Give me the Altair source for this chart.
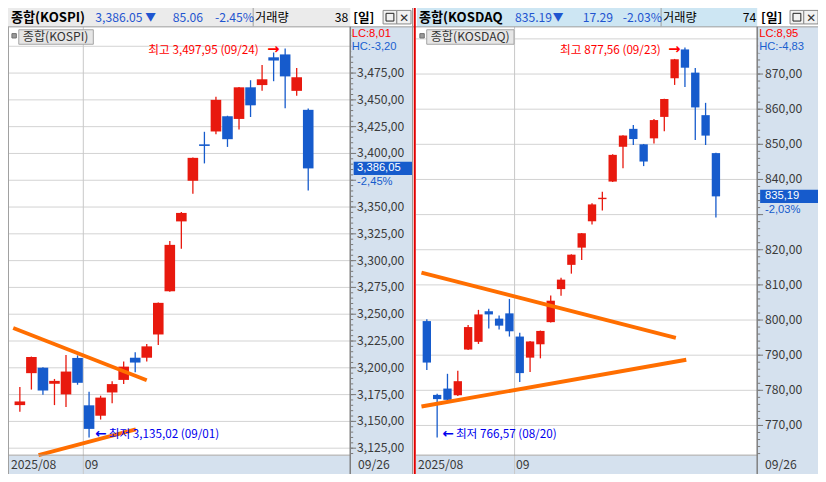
import altair as alt
import pandas as pd

# ---------------- canvas ----------------
W, H = 810, 466
SX, SY = W / 826.0, H / 482.0
FS = (SX + SY) / 2.0


def px(v):
    return v * SX


def py(v):
    return v * SY


FONT = "Noto Sans CJK KR"
NUM_FONT = "Liberation Sans"
ARROW_FONT = "DejaVu Sans"
UP = "#e8190e"
DOWN = "#165bcc"
ORANGE = "#ff6e00"
GRID = "#d3d3d3"
STRIP = "#d5e1ee"
AXIS_TXT = "#3a3a3a"
ANNO_RED = "#ff0000"
ANNO_BLUE = "#0000ee"
HDR_BLUE = "#1f55d0"

# ---------------- data: KOSPI ----------------
kospi_dates = ["08/22", "08/25", "08/26", "08/27", "08/28", "08/29",
               "09/01", "09/02", "09/03", "09/04", "09/05",
               "09/08", "09/09", "09/10", "09/11", "09/12",
               "09/15", "09/16", "09/17", "09/18", "09/19",
               "09/22", "09/23", "09/24", "09/25", "09/26"]
kospi_open = [3165.2, 3195.0, 3200.1, 3185.1, 3175.2, 3209.2,
              3165.0, 3155.3, 3177.0, 3188.7, 3209.4,
              3209.4, 3231.1, 3271.4, 3336.6, 3374.5,
              3408.5, 3420.5, 3434.7, 3432.2, 3461.7,
              3463.8, 3489.7, 3492.4, 3458.4, 3440.7]
kospi_high = [3182.1, 3210.5, 3200.5, 3189.6, 3211.9, 3211.6,
              3177.6, 3174.0, 3187.5, 3205.8, 3214.6,
              3222.1, 3260.9, 3318.3, 3345.4, 3396.2,
              3420.2, 3453.0, 3435.2, 3462.0, 3468.3,
              3482.5, 3494.2, 3497.95, 3479.8, 3441.9]
kospi_low = [3158.9, 3179.7, 3174.9, 3165.2, 3163.4, 3184.2,
             3135.02, 3151.7, 3167.0, 3184.8, 3195.9,
             3205.8, 3221.2, 3271.0, 3311.1, 3362.5,
             3390.7, 3417.8, 3406.1, 3422.3, 3434.0,
             3458.4, 3467.4, 3442.2, 3453.9, 3365.5]
kospi_close = [3168.6, 3210.1, 3178.8, 3187.8, 3196.5, 3186.0,
               3143.0, 3172.2, 3184.8, 3201.1, 3204.9,
               3220.0, 3260.6, 3314.7, 3344.5, 3395.9,
               3407.0, 3450.0, 3413.3, 3461.7, 3444.9,
               3469.2, 3486.7, 3471.9, 3471.1, 3386.05]
kospi_ticks = [3125, 3150, 3175, 3200, 3225, 3250, 3275, 3300,
               3325, 3350, 3375, 3400, 3425, 3450, 3475, 3500]
kospi_hidden_labels = [3375, 3500]
kospi_trend_i = [[-0.575, 11.0], [1.62, 10.05]]
kospi_trend_v = [[3237.1, 3188.4], [3118.5, 3142.6]]

# ---------------- data: KOSDAQ ----------------
kosdaq_dates = ["08/19", "08/20", "08/21", "08/22", "08/25", "08/26",
                "08/27", "08/28", "08/29",
                "09/01", "09/02", "09/03", "09/04", "09/05",
                "09/08", "09/09", "09/10", "09/11", "09/12",
                "09/15", "09/16", "09/17", "09/18", "09/19",
                "09/22", "09/23", "09/24", "09/25", "09/26"]
kosdaq_open = [799.7, 778.7, 780.5, 778.6, 791.6, 793.8, 802.5, 800.4, 801.9,
               795.3, 789.3, 793.1, 799.4, 808.8,
               815.7, 820.6, 828.1, 834.4, 839.4,
               849.3, 854.4, 850.0, 851.7, 857.8,
               868.8, 877.0, 870.4, 858.3, 847.5]
kosdaq_high = [800.2, 779.0, 784.7, 785.6, 798.6, 802.9, 803.2, 801.3, 806.0,
               796.4, 794.0, 797.0, 807.0, 812.0,
               818.7, 824.8, 833.2, 836.5, 847.2,
               852.6, 855.5, 850.1, 857.2, 863.0,
               874.3, 877.56, 871.7, 861.8, 847.6]
kosdaq_low = [785.8, 766.57, 777.0, 778.4, 791.5, 793.2, 797.6, 797.3, 795.3,
              782.4, 785.2, 789.1, 799.3, 806.9,
              813.2, 817.1, 827.2, 831.2, 839.3,
              843.2, 849.8, 843.8, 850.2, 853.7,
              866.9, 866.3, 851.2, 849.8, 829.2]
kosdaq_close = [787.9, 777.5, 777.3, 782.6, 798.0, 801.6, 801.6, 798.4, 796.8,
                784.9, 793.9, 796.9, 805.5, 811.5,
                818.6, 824.7, 832.9, 834.8, 847.0,
                852.5, 851.5, 845.1, 856.9, 862.9,
                874.2, 871.8, 860.5, 852.48, 835.19]
kosdaq_ticks = [770, 780, 790, 800, 810, 820, 830, 840, 850, 860, 870, 880]
kosdaq_hidden_labels = [830, 880]
kosdaq_trend_i = [[-0.52, 24.12], [-0.52, 25.13]]
kosdaq_trend_v = [[813.5, 794.9], [775.4, 788.7]]


def fmt(v):
    return f"{v:,.2f}".replace(".", ",")


def make_panel(p):
    df = pd.DataFrame({"date": p["dates"], "open": p["open"], "high": p["high"],
                       "low": p["low"], "close": p["close"]})
    df["i"] = range(len(df))
    n = len(df)
    xs = alt.Scale(domain=[0, n - 1], range=[px(p["first_x"]), px(p["last_x"])],
                   nice=False, zero=False)
    ys = alt.Scale(domain=p["ydom"], range=[py(p["yrng"][0]), py(p["yrng"][1])],
                   nice=False, zero=False)
    X = alt.X("i:Q", scale=xs, axis=None)

    def Y(f):
        return alt.Y(f, scale=ys, axis=None)

    layers = []
    # horizontal grid
    gdf = pd.DataFrame({"v": p["ticks"]})
    layers.append(alt.Chart(gdf).mark_rule(color=GRID, strokeWidth=1).encode(
        y=Y("v:Q"), x=alt.value(px(p["plot_x0"])), x2=alt.value(px(p["plot_x1"]))))
    # month boundary
    first_sep = next(k for k, d in enumerate(p["dates"]) if d.startswith("09"))
    mdf = pd.DataFrame({"i": [first_sep - 0.5], "t": ["09"]})
    layers.append(alt.Chart(mdf).mark_rule(color="#c8c8c8", strokeWidth=1).encode(
        x=X, y=alt.value(py(19.5)), y2=alt.value(H)))
    layers.append(alt.Chart(mdf).mark_text(align="left", baseline="middle", font=FONT,
                                           fontSize=12.5 * FS, color=AXIS_TXT, dx=px(1.5)).encode(
        x=X, y=alt.value(py(472.5)), text="t:N"))
    # candles
    color = alt.condition("datum.close >= datum.open", alt.value(UP), alt.value(DOWN))
    base = alt.Chart(df)
    layers.append(base.mark_rule(strokeWidth=1.3).encode(
        x=X, y=Y("low:Q"), y2="high:Q", color=color))
    layers.append(base.mark_bar(size=px(p["body_w"])).encode(
        x=X, y=Y("open:Q"), y2="close:Q", color=color))
    # trend lines
    rows = []
    for k, (ii, vv) in enumerate(zip(p["trend_i"], p["trend_v"])):
        for a, b in zip(ii, vv):
            rows.append({"line": k, "i": a, "v": b})
    tdf = pd.DataFrame(rows)
    layers.append(alt.Chart(tdf).mark_line(color=ORANGE, strokeWidth=4 * FS).encode(
        x=X, y=Y("v:Q"), detail="line:N"))
    # high / low annotations
    hi_i = int(df["high"].idxmax())
    lo_i = int(df["low"].idxmin())
    hi_df = pd.DataFrame({"i": [hi_i], "v": [df["high"][hi_i]],
                          "t": [f"최고 {fmt(df['high'][hi_i])} ({df['date'][hi_i]})"]})
    lo_df = pd.DataFrame({"i": [lo_i], "v": [df["low"][lo_i]],
                          "t": [f"최저 {fmt(df['low'][lo_i])} ({df['date'][lo_i]})"]})
    layers.append(alt.Chart(hi_df).mark_text(
        align="right", baseline="middle", font=FONT, fontSize=12 * FS, color=ANNO_RED,
        dx=px(p["hi_dx"]), dy=py(p["hi_dy"])).encode(x=X, y=Y("v:Q"), text="t:N"))
    layers.append(alt.Chart(hi_df).mark_text(
        align="right", baseline="middle", font=ARROW_FONT, fontSize=15 * FS, fontWeight="bold",
        color=ANNO_RED, text="→", dx=px(p["hi_adx"]), dy=py(p["hi_dy"])).encode(
        x=X, y=Y("v:Q")))
    layers.append(alt.Chart(lo_df).mark_text(
        align="left", baseline="middle", font=FONT, fontSize=12 * FS, color=ANNO_BLUE,
        dx=px(p["lo_dx"]), dy=py(p["lo_dy"])).encode(x=X, y=Y("v:Q"), text="t:N"))
    layers.append(alt.Chart(lo_df).mark_text(
        align="left", baseline="middle", font=ARROW_FONT, fontSize=14 * FS, fontWeight="bold",
        color=ANNO_BLUE, text="←", dx=px(p["lo_adx"]), dy=py(p["lo_dy"])).encode(
        x=X, y=Y("v:Q")))
    # y-axis ticks
    sx0 = p["strip_x"]
    layers.append(alt.Chart(pd.DataFrame({"v": p["minor"]})).mark_rule(
        color="#7a7a7a", strokeWidth=1).encode(
        y=Y("v:Q"), x=alt.value(px(sx0)), x2=alt.value(px(sx0 + 3))))
    layers.append(alt.Chart(gdf).mark_rule(color="#7a7a7a", strokeWidth=1).encode(
        y=Y("v:Q"), x=alt.value(px(sx0)), x2=alt.value(px(sx0 + 6))))
    lab_vals = [v for v in p["ticks"] if v not in p["hidden"]]
    ldf = pd.DataFrame({"v": lab_vals, "t": [fmt(v) for v in lab_vals]})
    layers.append(alt.Chart(ldf).mark_text(
        align="left", baseline="middle", font=FONT, fontSize=12.5 * FS, color=AXIS_TXT).encode(
        y=Y("v:Q"), x=alt.value(px(p["label_x"])), text="t:N"))
    # current price box
    last = df["close"].iloc[-1]
    pdf = pd.DataFrame({"v": [last], "t": [fmt(last)], "p": [p["pct"]]})
    layers.append(alt.Chart(pdf).mark_rule(color=DOWN, strokeWidth=py(13.5)).encode(
        y=Y("v:Q"), x=alt.value(px(p["box_x0"])), x2=alt.value(px(p["box_x1"]))))
    layers.append(alt.Chart(pdf).mark_text(
        align="left", baseline="middle", font=NUM_FONT, fontSize=11.5 * FS, color="white").encode(
        y=Y("v:Q"), x=alt.value(px(p["label_x"])), text="t:N"))
    layers.append(alt.Chart(pdf).mark_text(
        align="left", baseline="middle", font=NUM_FONT, fontSize=11.5 * FS, color=DOWN,
        dy=py(p["pct_dy"])).encode(y=Y("v:Q"), x=alt.value(px(p["label_x"])), text="p:N"))
    return alt.layer(*layers)


left = make_panel(dict(
    dates=kospi_dates, open=kospi_open, high=kospi_high, low=kospi_low, close=kospi_close,
    first_x=7, last_x=311.25, ydom=[3125, 3475], yrng=[455.3, 67.3],
    plot_x0=0.5, plot_x1=349, strip_x=349, label_x=356, body_w=10.8,
    ticks=kospi_ticks, hidden=kospi_hidden_labels, minor=list(range(3120, 3515, 5)),
    trend_i=kospi_trend_i, trend_v=kospi_trend_v,
    hi_dx=-26.9, hi_adx=-5.9, hi_dy=1.4, lo_dx=20, lo_adx=6, lo_dy=-3.2,
    box_x0=352.5, box_x1=412, pct="-2,45%", pct_dy=14))

right = make_panel(dict(
    dates=kosdaq_dates, open=kosdaq_open, high=kosdaq_high, low=kosdaq_low, close=kosdaq_close,
    first_x=422, last_x=727, ydom=[770, 870], yrng=[431.8, 68.3],
    plot_x0=416, plot_x1=764, strip_x=764, label_x=772, body_w=8.5,
    ticks=kosdaq_ticks, hidden=kosdaq_hidden_labels, minor=list(range(762, 882, 2)),
    trend_i=kosdaq_trend_i, trend_v=kosdaq_trend_v,
    hi_dx=-24.6, hi_adx=-4.6, hi_dy=2.5, lo_dx=19.1, lo_adx=5.1, lo_dy=-3.3,
    box_x0=767, box_x1=826, pct="-2,03%", pct_dy=14))


# ---------------- decoration (screen layout, reference pixels) ----------------
def rect_layer(rows):
    df = pd.DataFrame(rows, columns=["x0", "x1", "y0", "y1", "fill", "stroke"])
    df["x0"] = df["x0"] * SX
    df["x1"] = df["x1"] * SX
    df["y0"] = df["y0"] * SY
    df["y1"] = df["y1"] * SY
    return alt.Chart(df).mark_rect(strokeWidth=1).encode(
        x=alt.X("x0:Q", scale=None, axis=None), x2="x1:Q",
        y=alt.Y("y0:Q", scale=None, axis=None), y2="y1:Q",
        fill=alt.Fill("fill:N", scale=None, legend=None),
        stroke=alt.Stroke("stroke:N", scale=None, legend=None))


def line_layer(rows):
    df = pd.DataFrame(rows, columns=["x0", "x1", "y0", "y1", "c", "w"])
    df["x0"] = df["x0"] * SX
    df["x1"] = df["x1"] * SX
    df["y0"] = df["y0"] * SY
    df["y1"] = df["y1"] * SY
    return alt.Chart(df).mark_rule().encode(
        x=alt.X("x0:Q", scale=None, axis=None), x2="x1:Q",
        y=alt.Y("y0:Q", scale=None, axis=None), y2="y1:Q",
        color=alt.Color("c:N", scale=None, legend=None),
        size=alt.Size("w:Q", scale=None, legend=None))


def text_layer(rows, align="left", weight="normal", font=FONT):
    df = pd.DataFrame(rows, columns=["t", "x", "y", "c", "s"])
    df["x"] = df["x"] * SX
    df["y"] = df["y"] * SY
    df["s"] = df["s"] * FS
    return alt.Chart(df).mark_text(align=align, baseline="middle", font=font,
                                   fontWeight=weight).encode(
        x=alt.X("x:Q", scale=None, axis=None), y=alt.Y("y:Q", scale=None, axis=None),
        text="t:N", color=alt.Color("c:N", scale=None, legend=None),
        size=alt.Size("s:Q", scale=None, legend=None))


T = "transparent"
bg_rects = rect_layer([
    (0, 349, 0, 19.5, "#ebebeb", T),
    (417, 764, 0, 19.5, "#cde6f3", T),
    (349, 412, 19.5, 482, STRIP, T),
    (0, 349, 463, 482, STRIP, T),
    (764, 826, 19.5, 482, STRIP, T),
    (416, 764, 463, 482, STRIP, T),
])

top_rects = rect_layer([
    (350, 412, 20, 46.5, STRIP, T),
    (765, 826, 20, 46.5, STRIP, T),
    (382.5, 396.5, 2.5, 16.5, "#f2f2f2", "#8a8a8a"),
    (396.5, 411, 2.5, 16.5, "#f2f2f2", "#8a8a8a"),
    (385.5, 393.5, 5.5, 13.5, T, "#222222"),
    (797.5, 811.5, 2.5, 16.5, "#f2f2f2", "#8a8a8a"),
    (811.5, 826, 2.5, 16.5, "#f2f2f2", "#8a8a8a"),
    (800.5, 808.5, 5.5, 13.5, T, "#222222"),
    (4, 8.5, 26.5, 31, "#9a9a9a", "#707070"),
    (11, 87, 22.5, 37.5, "#e6e6e6", "#a5a5a5"),
    (420, 424.5, 26.5, 31, "#9a9a9a", "#707070"),
    (427, 516, 22.5, 37.5, "#e6e6e6", "#a5a5a5"),
])

lines = line_layer([
    (0, 826, 19.5, 19.5, "#9c9c9c", 1),
    (250, 250, 0, 19, "#a0a0a0", 1),
    (666, 666, 0, 19, "#a0a0a0", 1),
    (0.5, 0.5, 19.5, 482, "#a0a0a0", 1),
    (0, 349, 462.5, 462.5, "#a0a0a0", 1),
    (416, 764, 462.5, 462.5, "#a0a0a0", 1),
    (349, 349, 19.5, 482, "#808080", 1.5),
    (764, 764, 19.5, 482, "#808080", 1.5),
    (412.5, 412.5, 0, 482, "#9a9a9a", 1),
    (414.8, 414.8, 0, 482, "#e00000", 2),
])

texts_bold = text_layer([
    ("종합(KOSPI)", 3, 10, "#000000", 13.5),
    ("[일]", 352, 10, "#000000", 13),
    ("종합(KOSDAQ", 419, 10, "#000000", 13.5),
    ("[일]", 768, 10, "#000000", 13),
], weight="bold")

texts_left = text_layer([
    ("3,386.05", 89, 10, HDR_BLUE, 12.5),
    ("▼", 140, 10, HDR_BLUE, 11),
    ("85.06", 168, 10, HDR_BLUE, 12.5),
    ("-2.45%", 211, 10, HDR_BLUE, 12.5),
    ("거래량", 252, 10, "#000000", 12.5),
    ("835.19", 517, 10, HDR_BLUE, 12.5),
    ("▼", 555.5, 10, HDR_BLUE, 11),
    ("17.29", 586, 10, HDR_BLUE, 12.5),
    ("-2.03%", 627, 10, HDR_BLUE, 12.5),
    ("거래량", 668, 10, "#000000", 12.5),
    ("종합(KOSPI)", 15, 30, "#333333", 12.5),
    ("종합(KOSDAQ)", 431, 30, "#333333", 12.5),
    ("2025/08", 3, 472.5, AXIS_TXT, 12.5),
    ("09/26", 357, 472.5, AXIS_TXT, 12.5),
    ("2025/08", 418, 472.5, AXIS_TXT, 12.5),
    ("09/26", 772, 472.5, AXIS_TXT, 12.5),
])

texts_lchc = text_layer([
    ("LC:8,01", 350.5, 27, "#ff0000", 11.5),
    ("HC:-3,20", 350.5, 40.5, "#1a5fd0", 11.5),
    ("LC:8,95", 766, 27, "#ff0000", 11.5),
    ("HC:-4,83", 766, 40.5, "#1a5fd0", 11.5),
], font=NUM_FONT)

texts_right = text_layer([
    ("38", 347, 10, "#000000", 12.5),
    ("74", 763, 10, "#000000", 12.5),
], align="right")

texts_sym = text_layer([
    ("✕", 404, 10, "#333333", 12),
    ("✕", 819, 10, "#333333", 12),
], align="center", font=ARROW_FONT)

chart = alt.layer(
    bg_rects, left, right, top_rects, lines,
    texts_bold, texts_left, texts_lchc, texts_right, texts_sym,
).resolve_scale(
    x="independent", y="independent"
).properties(
    width=W, height=H, padding=0,
    autosize=alt.AutoSizeParams(type="none"),
    background="white",
).configure_view(stroke=None)

chart.save("out.html", embed_options={"renderer": "svg", "actions": False})
